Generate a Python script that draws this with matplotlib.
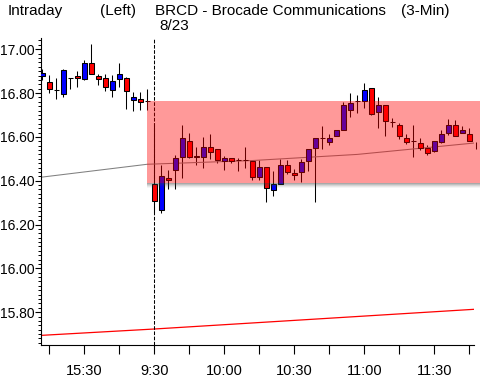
import matplotlib
matplotlib.use("Agg")
import matplotlib.pyplot as plt
from matplotlib.patches import Rectangle
from matplotlib.ticker import MultipleLocator, FixedLocator, FormatStrFormatter

plt.rcParams['font.family'] = ['Liberation Sans', 'DejaVu Sans']

# ---- data (3-min bars, index 0 = 15:12 previous day, index 16 = 9:30 on 8/23) ----
opens = [16.877, 16.851, 16.812, 16.794, 16.870, 16.880, 16.865, 16.939, 16.880, 16.870,
         16.814, 16.865, 16.871, 16.767, 16.771, 16.762,
         16.385, 16.268, 16.412, 16.447, 16.506, 16.582, 16.513, 16.506, 16.553, 16.544,
         16.491, 16.503, 16.494, 16.494, 16.492, 16.415, 16.462, 16.356, 16.386, 16.471,
         16.435, 16.438, 16.490, 16.549, 16.594, 16.576, 16.606, 16.632, 16.723, 16.762,
         16.765, 16.821, 16.715, 16.745, 16.670, 16.653, 16.594, 16.579, 16.571, 16.551,
         16.535, 16.576, 16.617, 16.653, 16.617, 16.614, 16.570]
highs = [16.908, 16.882, 16.870, 16.908, 16.870, 16.900, 16.953, 17.023, 16.889, 16.889,
         16.883, 16.935, 16.873, 16.805, 16.805, 16.817,
         16.665, 16.473, 16.450, 16.518, 16.655, 16.617, 16.556, 16.600, 16.614, 16.544,
         16.514, 16.503, 16.503, 16.553, 16.492, 16.495, 16.462, 16.442, 16.499, 16.495,
         16.453, 16.500, 16.544, 16.594, 16.650, 16.614, 16.632, 16.760, 16.801, 16.791,
         16.844, 16.821, 16.783, 16.745, 16.685, 16.662, 16.614, 16.655, 16.594, 16.564,
         16.580, 16.632, 16.680, 16.677, 16.651, 16.642, 16.575]
lows = [16.859, 16.799, 16.771, 16.780, 16.818, 16.829, 16.859, 16.885, 16.836, 16.810,
        16.780, 16.829, 16.729, 16.720, 16.723, 16.723,
        16.255, 16.253, 16.364, 16.362, 16.412, 16.503, 16.473, 16.460, 16.499, 16.483,
        16.450, 16.480, 16.442, 16.458, 16.405, 16.401, 16.301, 16.332, 16.386, 16.432,
        16.405, 16.392, 16.442, 16.301, 16.544, 16.564, 16.606, 16.632, 16.692, 16.711,
        16.730, 16.700, 16.642, 16.602, 16.644, 16.591, 16.568, 16.510, 16.541, 16.518,
        16.530, 16.571, 16.609, 16.606, 16.617, 16.579, 16.545]
closes = [16.892, 16.817, 16.814, 16.905, 16.870, 16.867, 16.938, 16.885, 16.865, 16.826,
          16.853, 16.889, 16.808, 16.780, 16.758, 16.762,
          16.309, 16.423, 16.405, 16.503, 16.594, 16.506, 16.506, 16.553, 16.533, 16.495,
          16.503, 16.491, 16.494, 16.494, 16.417, 16.462, 16.367, 16.385, 16.471, 16.438,
          16.424, 16.485, 16.544, 16.594, 16.594, 16.594, 16.632, 16.745, 16.753, 16.762,
          16.814, 16.705, 16.745, 16.674, 16.670, 16.606, 16.576, 16.579, 16.549, 16.526,
          16.580, 16.612, 16.653, 16.606, 16.632, 16.583, 16.570]

# long moving average (gray) and lower reference line (red), as polyline knots
gray_ma_idx = [-0.14, 15, 30, 45, 61.71]
gray_ma_val = [16.416, 16.475, 16.492, 16.520, 16.572]
red_line_idx = [-0.14, 16, 61.71]
red_line_val = [15.694, 15.723, 15.813]

# highlighted price zone
zone_start_idx = 14.93
zone_low = 16.388
zone_high = 16.765

session_break_idx = 16
tick_idx = [1, 6, 11, 16, 21, 26, 31, 36, 41, 46, 51, 56, 61]
tick_lbl = ['', '15:30', '', '9:30', '', '10:00', '', '10:30', '', '11:00', '', '11:30', '']

W, H = 481, 381
fig = plt.figure(figsize=(W / 100, H / 100), dpi=100)
ax = fig.add_axes([41.3 / W, 1 - 345 / H, (474.3 - 41.3) / W, (345 - 38.3) / H])

body_w = 0.7
for i, (o, h, l, c) in enumerate(zip(opens, highs, lows, closes)):
    last = i == len(opens) - 1
    ax.plot([i, i], [l, h], color='black', lw=0.75, zorder=2, clip_on=not last,
            solid_capstyle='butt')
    if c > o:
        col = '#0000FF'
    elif c < o:
        col = '#FF0000'
    else:
        col = 'black'
    ax.add_patch(Rectangle((i - body_w / 2, min(o, c)), body_w, abs(c - o),
                           facecolor=col, edgecolor='black', lw=0.75, zorder=3))

ax.plot(gray_ma_idx, gray_ma_val, color='#808080', lw=0.75, zorder=2)
ax.plot(red_line_idx, red_line_val, color='#FF0000', lw=0.9, zorder=2)
ax.axvline(session_break_idx, color='black', lw=0.75, dashes=(3.5, 1.5), zorder=2)

# zone with drop shadow
px = 1 / 219.0
shadow_alpha = [0.45, 0.33, 0.22, 0.12, 0.05]
for k, a in enumerate(shadow_alpha):
    ax.add_patch(Rectangle((zone_start_idx, zone_low - (k + 1) * px), 70, px,
                           facecolor='#404040', alpha=a, lw=0, zorder=5, clip_on=False))
ax.add_patch(Rectangle((zone_start_idx, zone_low), 70, zone_high - zone_low,
                       facecolor='#FF0000', alpha=0.4, lw=0, zorder=6, clip_on=False))

ax.set_xlim(-0.14, 61.71)
ax.set_ylim(15.65, 17.05)

for s in ['top', 'right']:
    ax.spines[s].set_visible(False)
for s in ['left', 'bottom']:
    ax.spines[s].set_linewidth(0.8)

ax.yaxis.set_major_locator(MultipleLocator(0.2))
ax.yaxis.set_minor_locator(MultipleLocator(0.02))
ax.yaxis.set_major_formatter(FormatStrFormatter('%.2f'))
ax.xaxis.set_major_locator(FixedLocator(tick_idx))
ax.set_xticklabels(tick_lbl)
ax.tick_params(axis='y', which='major', length=4, width=0.8, pad=0.8, labelsize=10)
ax.tick_params(axis='y', which='minor', length=2, width=0.7)
ax.tick_params(axis='x', which='major', length=6.5, width=0.8, pad=7, labelsize=10.5)

fs = 11
fig.text(8 / W, 1 - 15 / H, 'Intraday', fontsize=fs, va='baseline', ha='left')
fig.text(100 / W, 1 - 15 / H, '(Left)', fontsize=fs, va='baseline', ha='left')
fig.text(155 / W, 1 - 15 / H, 'BRCD - Brocade Communications', fontsize=fs,
         va='baseline', ha='left')
fig.text(401 / W, 1 - 15 / H, '(3-Min)', fontsize=fs, va='baseline', ha='left')
fig.text(159 / W, 1 - 30.5 / H, '8/23', fontsize=fs, va='baseline', ha='left')

fig.savefig('out.png', dpi=100)
